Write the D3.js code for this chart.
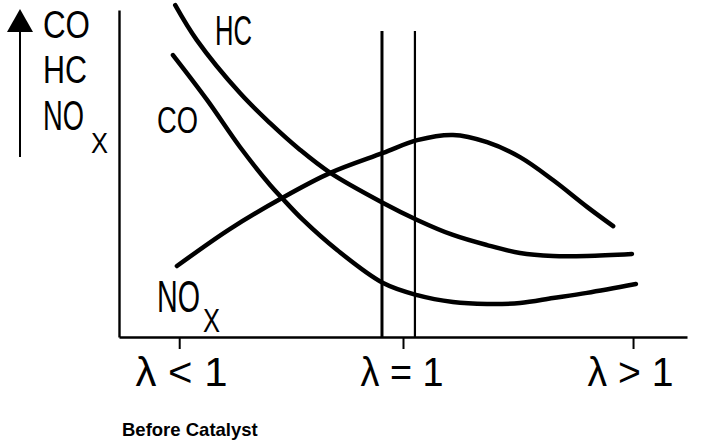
<!DOCTYPE html>
<html>
<head>
<meta charset="utf-8">
<script src="https://cdn.jsdelivr.net/npm/d3@7"></script>
<style>
  html, body { margin: 0; padding: 0; background: #fff; }
  svg { display: block; }
  text { font-family: "Liberation Sans", Arial, sans-serif; fill: #000; }
</style>
</head>
<body>
<svg id="chart" width="704" height="446"></svg>
<script>
// ---- data (x: relative lambda position 0..100, y: relative emission 0..100) ----
const tickValues = [10.6, 50.0, 90.5];
const tickLabels = ["λ < 1", "λ = 1", "λ > 1"];
const windowLines = [46.3, 52.1];

const hcX = [9.9, 13.7, 21.3, 26.6, 31.9, 37.2, 46.5, 52.5, 58.8, 64.8, 70.6, 76.4, 82.4, 90.3];
const hcY = [101.5, 90.8, 74.6, 65.4, 57.2, 50.2, 41.0, 35.8, 31.2, 28.1, 25.7, 24.8, 24.8, 25.4];

const coX = [9.5, 15.5, 21.3, 26.6, 28.7, 32.4, 38.4, 46.5, 52.5, 58.8, 64.8, 70.6, 76.4, 82.4, 91.0];
const coY = [86.2, 72.5, 58.1, 46.5, 42.5, 35.8, 26.6, 16.5, 12.8, 10.7, 10.1, 10.4, 11.9, 13.5, 16.2];

const noxX = [10.2, 19.5, 28.7, 37.2, 46.5, 52.5, 58.8, 64.8, 70.6, 76.4, 82.4, 87.0];
const noxY = [21.7, 33.0, 42.5, 50.2, 56.3, 60.2, 61.8, 59.6, 55.0, 48.0, 39.8, 33.9];

const seriesNames = ["HC", "CO", "NO"];
const footnote = "Before Catalyst";

// ---- drawing ----
const svg = d3.select("#chart");
const x = d3.scaleLinear().domain([0, 100]).range([119, 687]);
const y = d3.scaleLinear().domain([0, 100]).range([337, 10]);

// measure natural width of a text at 100px
const probe = svg.append("text").attr("font-size", 100).attr("x", -1000).attr("y", -1000);
function natWidth(txt) { probe.text(txt); return probe.node().getComputedTextLength(); }

// curves
const line = d3.line().x(d => x(d[0])).y(d => y(d[1])).curve(d3.curveCatmullRom.alpha(0.5));
const series = [d3.zip(hcX, hcY), d3.zip(coX, coY), d3.zip(noxX, noxY)];
svg.append("g").selectAll("path").data(series).join("path")
  .attr("d", line)
  .attr("fill", "none")
  .attr("stroke", "#000")
  .attr("stroke-width", 4.5)
  .attr("stroke-linecap", "round");

// window lines around lambda = 1
svg.append("g").selectAll("line").data(windowLines).join("line")
  .attr("x1", d => x(d)).attr("x2", d => x(d))
  .attr("y1", y(93.6)).attr("y2", y(0))
  .attr("stroke", "#000")
  .attr("stroke-width", (d, i) => i === 0 ? 3 : 2.2);

// x axis
const xAxis = d3.axisBottom(x)
  .tickValues(tickValues)
  .tickFormat((d, i) => tickLabels[i])
  .tickSize(12)
  .tickSizeOuter(0);
const gx = svg.append("g").attr("transform", `translate(0,${y(0)})`).call(xAxis);
gx.select(".domain").attr("stroke", "#000").attr("stroke-width", 2.6);
gx.selectAll(".tick line").attr("stroke", "#000").attr("stroke-width", 2);
const tickLens = [92, 83, 86];
const tickCenters = [181, 401.5, 630];
gx.selectAll(".tick text").each(function (d, i) {
  const w = natWidth(tickLabels[i]);
  const fs = 100 * tickLens[i] / w;
  const sy = 29 / (fs * 0.716);
  d3.select(this)
    .attr("dy", null)
    .attr("y", 0)
    .attr("x", tickCenters[i] - x(d))
    .attr("font-size", fs)
    .attr("font-family", "Liberation Sans, Arial, sans-serif")
    .attr("fill", "#000")
    .attr("transform", `translate(0,49) scale(1,${sy})`);
});

// y axis
const yAxis = d3.axisLeft(y).tickValues([]).tickSizeOuter(0);
const gy = svg.append("g").attr("transform", `translate(${x(0)},0)`).call(yAxis);
gy.select(".domain").attr("stroke", "#000").attr("stroke-width", 2.4);

// arrow on the far left
svg.append("line").attr("x1", 20).attr("x2", 20).attr("y1", 28).attr("y2", 157)
  .attr("stroke", "#000").attr("stroke-width", 2);
svg.append("path").attr("d", "M7,32 L33,32 L20,9 Z").attr("fill", "#000");

// helper for condensed text: width and cap height in pixels
function label(txt, px, py, capH, width) {
  const w = natWidth(txt);
  const fs = 100 * width / w;
  const sy = capH / (fs * 0.716);
  svg.append("text")
    .attr("transform", `translate(${px},${py}) scale(1,${sy})`)
    .attr("font-size", fs)
    .text(txt);
}

// left legend stack
label("CO", 43, 38, 28, 47);
label("HC", 43, 83, 28, 44);
label("NO", 43, 130, 30, 41);
label("X", 91, 153, 21, 17);

// curve labels
label(seriesNames[0], 215, 45, 30, 37);
label(seriesNames[1], 157, 133, 27, 41);
label(seriesNames[2], 157, 312, 32, 43);
label("X", 203, 332, 24, 17);

probe.remove();

// footnote
svg.append("text").attr("x", 122).attr("y", 436)
  .attr("font-size", 18.5).attr("font-weight", "bold")
  .text(footnote);
</script>
</body>
</html>
